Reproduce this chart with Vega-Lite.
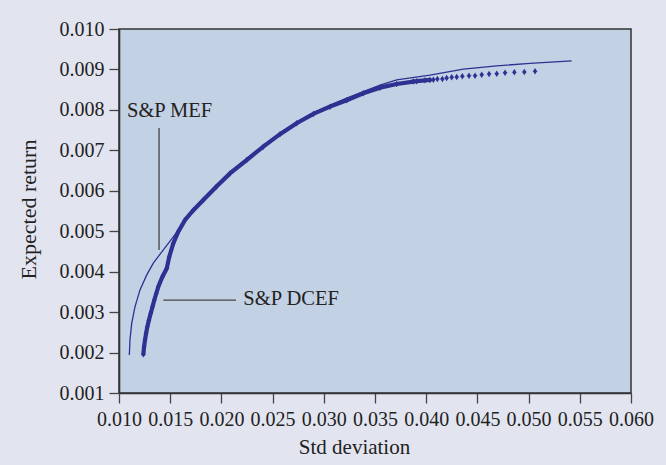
{
  "$schema": "https://vega.github.io/schema/vega-lite/v6.json",
  "width": 512,
  "height": 364,
  "autosize": {"type": "none"},
  "padding": {"left": 119, "top": 29, "right": 35, "bottom": 72},
  "background": "#e2e5f0",
  "config": {
    "font": "Liberation Serif",
    "view": {"fill": "#c2d2e4", "stroke": "#333333", "strokeWidth": 1.5},
    "axis": {
      "domainColor": "#333333", "domainWidth": 1.6,
      "tickColor": "#444444", "tickWidth": 1.3, "tickSize": 10,
      "labelFont": "Liberation Serif", "labelFontSize": 20, "labelColor": "#222222",
      "titleFont": "Liberation Serif", "titleFontSize": 21, "titleFontWeight": "normal", "titleColor": "#222222",
      "grid": false, "labelOverlap": false, "labelBound": false, "labelFlush": false
    }
  },
  "datasets": {
    "mef": [
      {"sd": 0.01101, "ret": 0.00194}, {"sd": 0.01107, "ret": 0.00231}, {"sd": 0.01124, "ret": 0.00272},
      {"sd": 0.01156, "ret": 0.00313}, {"sd": 0.01205, "ret": 0.00355}, {"sd": 0.01271, "ret": 0.00392},
      {"sd": 0.01335, "ret": 0.00421}, {"sd": 0.01433, "ret": 0.00454}, {"sd": 0.01530, "ret": 0.00486},
      {"sd": 0.01628, "ret": 0.00520}, {"sd": 0.01710, "ret": 0.00545}, {"sd": 0.01823, "ret": 0.00581},
      {"sd": 0.01950, "ret": 0.00614}, {"sd": 0.02084, "ret": 0.00647}, {"sd": 0.02247, "ret": 0.00680},
      {"sd": 0.02409, "ret": 0.00712}, {"sd": 0.02572, "ret": 0.00743}, {"sd": 0.02735, "ret": 0.00770},
      {"sd": 0.02898, "ret": 0.00793}, {"sd": 0.03061, "ret": 0.00812}, {"sd": 0.03224, "ret": 0.00829},
      {"sd": 0.03386, "ret": 0.00845}, {"sd": 0.03549, "ret": 0.00861}, {"sd": 0.03712, "ret": 0.00874},
      {"sd": 0.04037, "ret": 0.00886}, {"sd": 0.04363, "ret": 0.00901}, {"sd": 0.04689, "ret": 0.00909},
      {"sd": 0.05014, "ret": 0.00915}, {"sd": 0.05421, "ret": 0.00921}
    ],
    "dcef": [
      {"sd": 0.01238, "ret": 0.00196}, {"sd": 0.01245, "ret": 0.00215}, {"sd": 0.01254, "ret": 0.00231},
      {"sd": 0.01265, "ret": 0.00248}, {"sd": 0.01277, "ret": 0.00264}, {"sd": 0.01292, "ret": 0.00280},
      {"sd": 0.01310, "ret": 0.00297}, {"sd": 0.01327, "ret": 0.00313}, {"sd": 0.01345, "ret": 0.00330},
      {"sd": 0.01364, "ret": 0.00346}, {"sd": 0.01384, "ret": 0.00363}, {"sd": 0.01423, "ret": 0.00387},
      {"sd": 0.01466, "ret": 0.00408}, {"sd": 0.01491, "ret": 0.00437}, {"sd": 0.01530, "ret": 0.00470},
      {"sd": 0.01579, "ret": 0.00499}, {"sd": 0.01645, "ret": 0.00528}, {"sd": 0.01726, "ret": 0.00552},
      {"sd": 0.01823, "ret": 0.00577}, {"sd": 0.01950, "ret": 0.00610}, {"sd": 0.02084, "ret": 0.00643},
      {"sd": 0.02247, "ret": 0.00676}, {"sd": 0.02409, "ret": 0.00709}, {"sd": 0.02572, "ret": 0.00740},
      {"sd": 0.02735, "ret": 0.00767}, {"sd": 0.02898, "ret": 0.00790}, {"sd": 0.03061, "ret": 0.00808},
      {"sd": 0.03224, "ret": 0.00824}, {"sd": 0.03386, "ret": 0.00841}, {"sd": 0.03549, "ret": 0.00855},
      {"sd": 0.03712, "ret": 0.00864}, {"sd": 0.03874, "ret": 0.00870}, {"sd": 0.03907, "ret": 0.00871},
      {"sd": 0.03988, "ret": 0.00873}, {"sd": 0.04037, "ret": 0.00874}, {"sd": 0.04070, "ret": 0.008747},
      {"sd": 0.04109, "ret": 0.008764}, {"sd": 0.04158, "ret": 0.008764}, {"sd": 0.04200, "ret": 0.008788},
      {"sd": 0.04249, "ret": 0.008805}, {"sd": 0.04298, "ret": 0.008813}, {"sd": 0.04353, "ret": 0.008830},
      {"sd": 0.04418, "ret": 0.008846}, {"sd": 0.04477, "ret": 0.008846}, {"sd": 0.04542, "ret": 0.008871},
      {"sd": 0.04614, "ret": 0.008887}, {"sd": 0.04689, "ret": 0.008895}, {"sd": 0.04770, "ret": 0.008920},
      {"sd": 0.04861, "ret": 0.008929}, {"sd": 0.04958, "ret": 0.008937}, {"sd": 0.05063, "ret": 0.008954}
    ],
    "labels": [
      {"sd": 0.01078, "ret": 0.00783, "text": "S&P MEF"},
      {"sd": 0.02214, "ret": 0.003175, "text": "S&P DCEF"}
    ],
    "rules": [
      {"sd": 0.01391, "ret": 0.00755, "sd2": 0.01391, "ret2": 0.004535},
      {"sd": 0.01433, "ret": 0.003298, "sd2": 0.02143, "ret2": 0.003298}
    ]
  },
  "layer": [
    {
      "data": {"name": "mef"},
      "mark": {"type": "line", "color": "#2e3192", "strokeWidth": 1.3},
      "encoding": {
        "x": {
          "field": "sd", "type": "quantitative",
          "scale": {"domain": [0.010, 0.060], "nice": false, "zero": false},
          "axis": {
            "title": "Std deviation", "format": ".3f",
            "values": [0.010, 0.015, 0.020, 0.025, 0.030, 0.035, 0.040, 0.045, 0.050, 0.055, 0.060],
            "labelPadding": 6,
            "titleX": 235, "titleY": 60, "titleAlign": "center", "titleBaseline": "alphabetic"
          }
        },
        "y": {
          "field": "ret", "type": "quantitative",
          "scale": {"domain": [0.001, 0.010], "nice": false, "zero": false},
          "axis": {
            "title": "Expected return", "format": ".3f",
            "values": [0.001, 0.002, 0.003, 0.004, 0.005, 0.006, 0.007, 0.008, 0.009, 0.010],
            "labelPadding": 5, "titleFontSize": 22,
            "titleX": -84, "titleY": 180, "titleAngle": -90, "titleAlign": "center", "titleBaseline": "alphabetic"
          }
        }
      }
    },
    {
      "data": {"name": "dcef"},
      "transform": [{"filter": "datum.sd <= 0.0404"}],
      "mark": {"type": "line", "color": "#2e3192", "strokeWidth": 4.2, "strokeCap": "round"},
      "encoding": {
        "x": {"field": "sd", "type": "quantitative"},
        "y": {"field": "ret", "type": "quantitative"}
      }
    },
    {
      "data": {"name": "dcef"},
      "mark": {"type": "point", "filled": true, "opacity": 1, "color": "#2e3192", "size": 42,
               "shape": "M0,-1L0.55,-0.15L0.8,0L0.55,0.15L0,1L-0.55,0.15L-0.8,0L-0.55,-0.15Z"},
      "encoding": {
        "x": {"field": "sd", "type": "quantitative"},
        "y": {"field": "ret", "type": "quantitative"}
      }
    },
    {
      "data": {"name": "rules"},
      "mark": {"type": "rule", "color": "#444444", "strokeWidth": 1.3},
      "encoding": {
        "x": {"field": "sd", "type": "quantitative"},
        "y": {"field": "ret", "type": "quantitative"},
        "x2": {"field": "sd2"},
        "y2": {"field": "ret2"}
      }
    },
    {
      "data": {"name": "labels"},
      "mark": {"type": "text", "align": "left", "baseline": "alphabetic", "fontSize": 20.5, "font": "Liberation Serif", "color": "#222222"},
      "encoding": {
        "x": {"field": "sd", "type": "quantitative"},
        "y": {"field": "ret", "type": "quantitative"},
        "text": {"field": "text"}
      }
    }
  ]
}
